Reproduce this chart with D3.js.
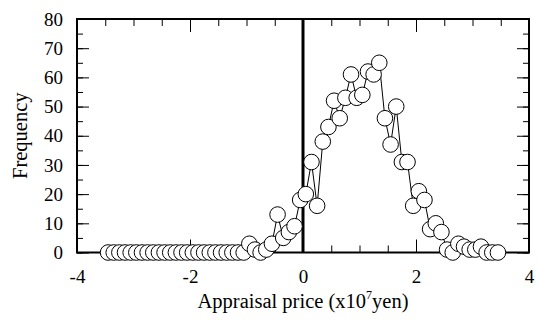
<!DOCTYPE html>
<html>
<head>
<meta charset="utf-8">
<script src="https://cdn.jsdelivr.net/npm/d3@7"></script>
<style>
  body { margin: 0; background: #fff; }
  svg text { font-family: "Liberation Serif", "Times New Roman", serif; fill: #000; }
</style>
</head>
<body>
<svg id="chart"></svg>
<script>
// bin centres (x10^7 yen), step 0.1
const binCenters = d3.range(70).map(i => +(-3.45 + i * 0.1).toFixed(2));
// frequency per bin
const frequency = [
  0, 0, 0, 0, 0, 0, 0, 0, 0, 0,      // -3.45 .. -2.55
  0, 0, 0, 0, 0, 0, 0, 0, 0, 0,      // -2.45 .. -1.55
  0, 0, 0, 0, 0, 3, 1, 0, 1, 3,      // -1.45 .. -0.55
  13, 5, 7, 9, 18, 20, 31, 16, 38, 43, // -0.45 .. 0.45
  52, 46, 53, 61, 53, 54, 62, 61, 65, 46, // 0.55 .. 1.45
  37, 50, 31, 31, 16, 21, 18, 8, 10, 7,   // 1.55 .. 2.45
  1, 0, 3, 2, 1, 1, 2, 0, 0, 0       // 2.55 .. 3.45
];
const xMajorTicks = [-4, -2, 0, 2, 4];
const xMinorTicks = d3.range(-4, 4.01, 0.5);
const yMajorTicks = [0, 10, 20, 30, 40, 50, 60, 70, 80];
const yMinorTicks = d3.range(0, 81, 5);

const data = binCenters.map((x, i) => ({x: x, y: frequency[i]}));

const W = 538, H = 320;
const margin = {top: 19, right: 9, bottom: 67.5, left: 77};
const width = W - margin.left - margin.right;
const height = H - margin.top - margin.bottom;

const svg = d3.select("#chart")
  .attr("width", W)
  .attr("height", H);

const g = svg.append("g")
  .attr("transform", `translate(${margin.left},${margin.top})`);

const x = d3.scaleLinear().domain([-4, 4]).range([0, width]);
const y = d3.scaleLinear().domain([0, 80]).range([height, 0]);

// plain hyphen for negatives, like the original
const plain = d => String(d);

function styleTicks(sel) {
  sel.select(".domain").remove();
  sel.selectAll(".tick line").attr("stroke", "#000").attr("stroke-width", 1);
  sel.selectAll(".tick text").attr("font-size", 19);
}

// minor + major ticks, all pointing inward
g.append("g").attr("transform", `translate(0,${height})`)
  .call(d3.axisBottom(x).tickValues(xMinorTicks).tickSize(-7).tickFormat(""))
  .call(styleTicks);
g.append("g").attr("transform", `translate(0,${height})`)
  .call(d3.axisBottom(x).tickValues(xMajorTicks).tickSize(-13).tickPadding(34).tickFormat(plain))
  .call(styleTicks)
  .call(s => s.selectAll(".tick text").attr("dy", "-0.2em"));
g.append("g")
  .call(d3.axisTop(x).tickValues(xMinorTicks).tickSize(-7).tickFormat(""))
  .call(styleTicks);
g.append("g")
  .call(d3.axisTop(x).tickValues(xMajorTicks).tickSize(-13).tickFormat(""))
  .call(styleTicks);

g.append("g")
  .call(d3.axisLeft(y).tickValues(yMinorTicks).tickSize(-6).tickFormat(""))
  .call(styleTicks);
g.append("g")
  .call(d3.axisLeft(y).tickValues(yMajorTicks).tickSize(-12).tickPadding(14).tickFormat(plain))
  .call(styleTicks);
g.append("g").attr("transform", `translate(${width},0)`)
  .call(d3.axisRight(y).tickValues(yMinorTicks).tickSize(-6).tickFormat(""))
  .call(styleTicks);
g.append("g").attr("transform", `translate(${width},0)`)
  .call(d3.axisRight(y).tickValues(yMajorTicks).tickSize(-12).tickFormat(""))
  .call(styleTicks);

// frame
g.append("rect")
  .attr("width", width).attr("height", height)
  .attr("fill", "none").attr("stroke", "#000").attr("stroke-width", 2);

// zero line
g.append("line")
  .attr("x1", x(0)).attr("x2", x(0))
  .attr("y1", 0).attr("y2", height)
  .attr("stroke", "#000").attr("stroke-width", 3);

const line = d3.line().x(d => x(d.x)).y(d => y(d.y));
g.append("path")
  .datum(data)
  .attr("fill", "none")
  .attr("stroke", "#000")
  .attr("stroke-width", 1)
  .attr("d", line);

g.append("g").selectAll("circle")
  .data(data)
  .join("circle")
  .attr("cx", d => x(d.x))
  .attr("cy", d => y(d.y))
  .attr("r", 7.8)
  .attr("fill", "#fff")
  .attr("stroke", "#000")
  .attr("stroke-width", 1);

// axis titles
const xt = svg.append("text")
  .attr("x", margin.left + x(0))
  .attr("y", 308)
  .attr("text-anchor", "middle")
  .attr("font-size", 20.5);
xt.append("tspan").text("Appraisal price (x10");
xt.append("tspan").attr("font-size", 12).attr("dy", -9).text("7");
xt.append("tspan").attr("dy", 9).text("yen)");

svg.append("text")
  .attr("transform", `translate(27,${margin.top + height / 2}) rotate(-90)`)
  .attr("text-anchor", "middle")
  .attr("font-size", 20.5)
  .text("Frequency");
</script>
</body>
</html>
